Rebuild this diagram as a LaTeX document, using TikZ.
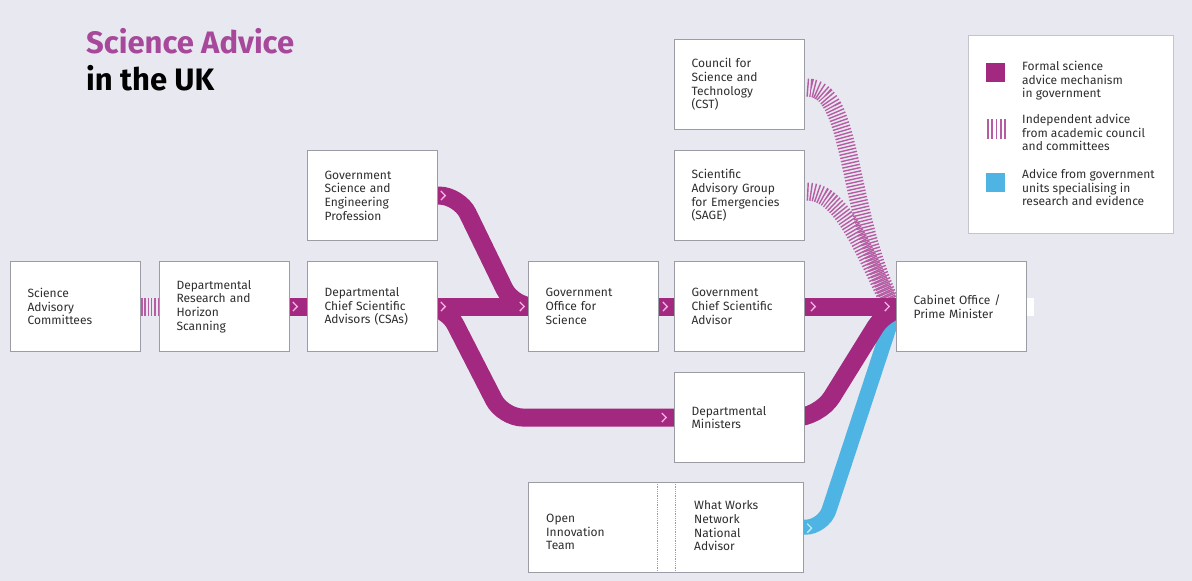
\documentclass[tikz,border=0pt]{standalone}
\usepackage{fontspec}
\setmainfont{Fira Sans}
\usetikzlibrary{calc}
\definecolor{bg}{HTML}{E8E8F0}
\definecolor{mag}{HTML}{A2297F}
\definecolor{titlemag}{HTML}{A8489B}
\definecolor{stripec}{HTML}{B65CA3}
\definecolor{bluec}{HTML}{4DB4E3}
\definecolor{chevc}{HTML}{F6B0E4}
\definecolor{chevb}{HTML}{B8ECFA}
\definecolor{boxgray}{HTML}{9C9CA4}
\definecolor{leggray}{HTML}{C4C4CC}
\definecolor{txt}{HTML}{2E2E2E}
\tikzset{
  lbl/.style={inner sep=0pt, align=left, text=txt, font=\fontsize{12}{13.7}\selectfont},
  box/.style={draw=boxgray, line width=1.1pt, fill=white, minimum width=130pt, minimum height=90pt,
    text width=96pt, inner xsep=17pt, inner ysep=0pt, align=left, anchor=north west,
    text=txt, font=\fontsize{12}{13.7}\selectfont},
  band/.style={line width=18pt, draw=mag, rounded corners=20pt},
  blueband/.style={line width=15pt, draw=bluec, rounded corners=18pt},
  stripeband/.style={line width=18pt, draw=stripec, dash pattern=on 1.4pt off 1.9pt},
  chev/.pic={\draw[line width=1.3pt, #1] (-2.2,-4.5) -- (2.2,0) -- (-2.2,4.5);},
}
\begin{document}
\begin{tikzpicture}[x=1pt,y=-1pt]
\fill[bg] (0,0) rectangle (1192,581);
\useasboundingbox (0,0) rectangle (1192,581);

% title
\node[anchor=base west, inner sep=0pt, font=\fontsize{31}{37}\selectfont\bfseries, text=titlemag] (t1) at (86,53) {Science Advice};
\node[anchor=base west, inner sep=0pt, font=\fontsize{31}{37}\selectfont\bfseries, text=black] (t2) at (86,90) {in the UK};

% box positions
\coordinate (psac) at (10,261);
\coordinate (pdrhs) at (159,261);
\coordinate (pdcsa) at (307,261);
\coordinate (pgsep) at (307,150);
\coordinate (pgos) at (528,261);
\coordinate (pcst) at (674,39);
\coordinate (psage) at (674,150);
\coordinate (pgcsa) at (674,261);
\coordinate (pdmin) at (674,372);
\coordinate (pcab) at (896,261);

% helper nodes with the same geometry for routing
\begin{scope}[every node/.style={box, draw=none, fill=none}]
\node (sac) at (psac) {};
\node (drhs) at (pdrhs) {};
\node (dcsa) at (pdcsa) {};
\node (gsep) at (pgsep) {};
\node (gos) at (pgos) {};
\node (cst) at (pcst) {};
\node (sage) at (psage) {};
\node (gcsa) at (pgcsa) {};
\node (dmin) at (pdmin) {};
\node (cab) at (pcab) {};
\end{scope}
\node[draw=none, minimum width=275pt, minimum height=90pt, anchor=north west, inner sep=0pt] (oit) at (528,482) {};

% striped bands
\draw[stripeband] (sac.east) -- (drhs.west);
\draw[stripeband] ($(cst.east)+(2,3)$) .. controls +(46,0) and +(-45,-100) .. ($(cab.west)+(-6,-6)$);
\draw[stripeband] ($(sage.east)+(2,-4)$) .. controls +(32,0) and +(-28,-60) .. ($(cab.west)+(-8,-6)$);

% blue band
\draw[blueband] ($(oit.east)+(-20,0)$) -- ($(oit.east)+(20,0)$) -- ($(cab.west)+(-4,12)$);

% magenta bands
\draw[band] (drhs.center) -- (dcsa.center);
\draw[band] (dcsa.center) -- (gos.center);
\draw[band] (gsep.center) -- ($(gsep.east)+(21,0)$) -- ($(gos.west)+(-15,0)$) -- (gos.center);
\draw[band] (dcsa.center) -- ($(dcsa.east)+(8,0)$) -- ($(dmin.west)+(-171,0)$) -- (dmin.center);
\draw[band] (gos.center) -- (gcsa.center);
\draw[band] (gcsa.center) -- (cab.center);
\draw[band, rounded corners=24pt] (dmin.center) -- ($(dmin.east)+(14,0)$) -- ($(cab.west)+(-8,0)$) -- (cab.center);

% boxes
\node[box] (sacB) at (psac) {Science\\Advisory\\Committees};
\node[box] (drhsB) at (pdrhs) {Departmental\\Research and\\Horizon\\Scanning};
\node[box] (dcsaB) at (pdcsa) {Departmental\\Chief Scientific\\Advisors (CSAs)};
\node[box] (gsepB) at (pgsep) {Government\\Science and\\Engineering\\Profession};
\node[box] (gosB) at (pgos) {Government\\Office for\\Science};
\node[box] (cstB) at (pcst) {Council for\\Science and\\Technology\\(CST)};
\node[box] (sageB) at (psage) {Scientific\\Advisory Group\\for Emergencies\\(SAGE)};
\node[box] (gcsaB) at (pgcsa) {Government\\Chief Scientific\\Advisor};
\node[box] (dminB) at (pdmin) {Departmental\\Ministers};
\node[box] (cabB) at (pcab) {Cabinet Office /\\Prime Minister};
\fill[white] ($(cab.east)+(0,-9)$) rectangle ($(cab.east)+(7,9)$);

\node[draw=boxgray, line width=1.1pt, fill=white, minimum width=275pt, minimum height=90pt, anchor=north west, inner sep=0pt] (oitB) at (528,482) {};
\draw[boxgray, densely dotted, line width=0.8pt] ($(oit.north west)+(129,0)$) -- ($(oit.south west)+(129,0)$);
\draw[boxgray, densely dotted, line width=0.8pt] ($(oit.north west)+(147,0)$) -- ($(oit.south west)+(147,0)$);
\node[lbl, anchor=west] (oitT) at (546,532) {Open\\Innovation\\Team};
\node[lbl, anchor=west] (wwT) at (694,526) {What Works\\Network\\National\\Advisor};

% chevrons
\pic at ($(drhs.east)+(5,0)$) {chev=chevc};
\pic at ($(dcsa.east)+(5,0)$) {chev=chevc};
\pic at ($(gsep.east)+(5,0)$) {chev=chevc};
\pic at ($(gos.west)+(-6,0)$) {chev=chevc};
\pic at ($(gos.east)+(6,0)$) {chev=chevc};
\pic at ($(gcsa.east)+(8,0)$) {chev=chevc};
\pic at ($(cab.west)+(-9,0)$) {chev=chevc};
\pic at ($(dmin.west)+(-10,0)$) {chev=chevc};
\pic at ($(oit.east)+(6,1)$) {chev=chevb};

% legend
\node[draw=leggray, line width=1pt, fill=white, minimum width=205pt, minimum height=198pt, anchor=north west, inner sep=0pt] (legend) at (968,35) {};
\node[fill=mag, minimum size=19pt, inner sep=0pt, anchor=north west] (lg1) at (986,63) {};
\foreach \i in {0,...,4} {\draw[stripec, line width=1.8pt] (988+4.2*\i,119) -- (988+4.2*\i,139);}
\node[fill=bluec, minimum size=19pt, inner sep=0pt, anchor=north west] (lg3) at (986,173) {};
\node[lbl, anchor=north west] (lt1) at (1022,61) {Formal science\\advice mechanism\\in government};
\node[lbl, anchor=north west] (lt2) at (1022,114) {Independent advice\\from academic council\\and committees};
\node[lbl, anchor=north west] (lt3) at (1022,169) {Advice from government\\units specialising in\\research and evidence};
\end{tikzpicture}
\end{document}
